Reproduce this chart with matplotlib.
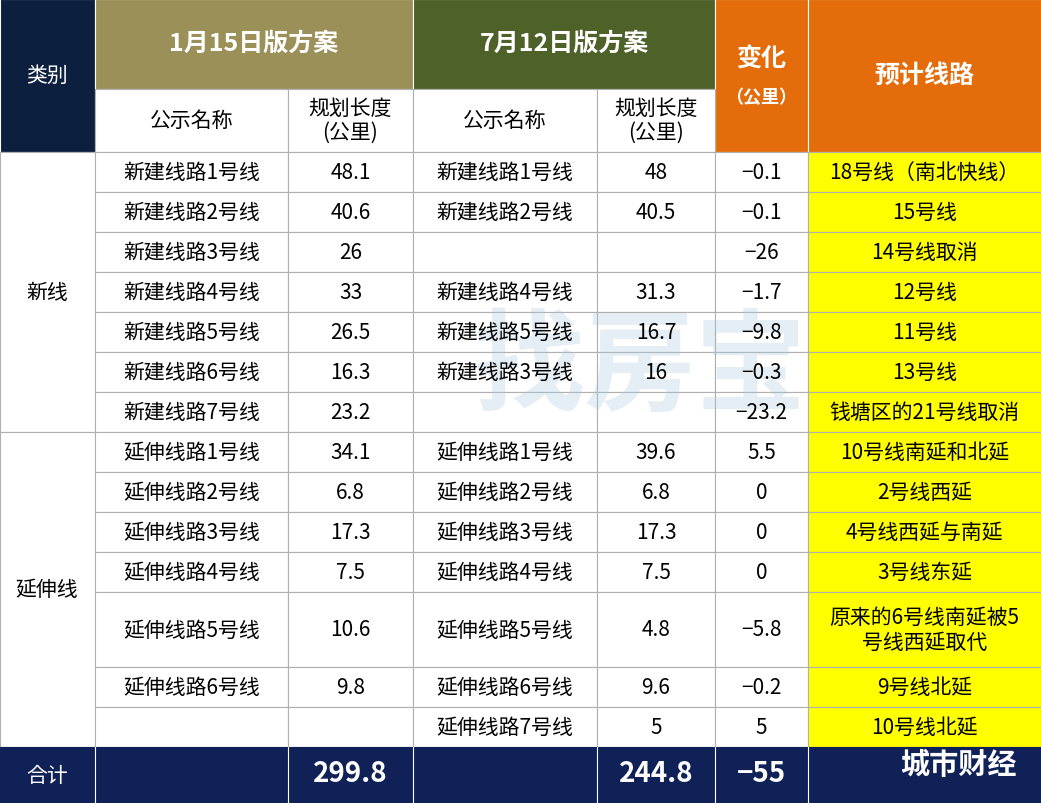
import matplotlib.pyplot as plt
from matplotlib.patches import Rectangle
from matplotlib import font_manager as fm

cjk = [f for f in fm.findSystemFonts() if 'cjk' in f.lower()]
fams = []
for f in cjk:
    try:
        fm.fontManager.addfont(f)
        fams.append(fm.FontProperties(fname=f).get_name())
    except Exception:
        pass
plt.rcParams['font.family'] = ['Noto Sans CJK SC', 'Noto Sans CJK JP'] + fams + ['DejaVu Sans']

names_jan = ['新建线路1号线', '新建线路2号线', '新建线路3号线', '新建线路4号线', '新建线路5号线', '新建线路6号线', '新建线路7号线',
             '延伸线路1号线', '延伸线路2号线', '延伸线路3号线', '延伸线路4号线', '延伸线路5号线', '延伸线路6号线', '']
len_jan = ['48.1', '40.6', '26', '33', '26.5', '16.3', '23.2', '34.1', '6.8', '17.3', '7.5', '10.6', '9.8', '']
names_jul = ['新建线路1号线', '新建线路2号线', '', '新建线路4号线', '新建线路5号线', '新建线路3号线', '',
             '延伸线路1号线', '延伸线路2号线', '延伸线路3号线', '延伸线路4号线', '延伸线路5号线', '延伸线路6号线', '延伸线路7号线']
len_jul = ['48', '40.5', '', '31.3', '16.7', '16', '', '39.6', '6.8', '17.3', '7.5', '4.8', '9.6', '5']
change = ['−0.1', '−0.1', '−26', '−1.7', '−9.8', '−0.3', '−23.2', '5.5', '0', '0', '0', '−5.8', '−0.2', '5']
plans = ['18号线（南北快线）', '15号线', '14号线取消', '12号线', '11号线', '13号线', '钱塘区的21号线取消',
         '10号线南延和北延', '2号线西延', '4号线西延与南延', '3号线东延', '原来的6号线南延被5\n号线西延取代', '9号线北延', '10号线北延']
totals = ['299.8', '244.8', '−55']

xs = [0, 95, 288, 413, 597, 715, 808, 1041]
row_h = [40] * 11 + [75, 40, 40]
ys = [153]
for h in row_h:
    ys.append(ys[-1] + h)

navy = '#0c1f3f'
olive = '#9b9058'
green = '#4e6129'
orange = '#e46c0a'
grid = '#b0b0b0'
fs = 15

fig = plt.figure(figsize=(10.41, 8.04), dpi=100)
ax = fig.add_axes([0, 0, 1, 1])
ax.set_xlim(0, 1041)
ax.set_ylim(804, 0)
ax.axis('off')

def cell(x0, x1, y0, y1, fc, ec=grid, lw=0.8):
    ax.add_patch(Rectangle((x0, y0), x1 - x0, y1 - y0, facecolor=fc, edgecolor=ec, lw=lw))

# watermark
ax.text(640, 370, '找房宝', fontsize=80, color='#a9c9e0', alpha=0.3, weight='bold',
        ha='center', va='center', zorder=5)

# header
cell(0, 95, 0, 153, navy, ec='white')
cell(95, 413, 0, 90, olive, ec='white')
cell(413, 715, 0, 90, green, ec='white')
cell(715, 808, 0, 153, orange, ec='white')
cell(808, 1041, 0, 153, orange, ec='white')
for i in range(1, 5):
    cell(xs[i], xs[i + 1], 90, 153, 'white')
ax.text(47, 76, '类别', color='white', fontsize=fs, ha='center', va='center')
ax.text(254, 44, '1月15日版方案', color='white', fontsize=18, weight='bold', ha='center', va='center')
ax.text(564, 44, '7月12日版方案', color='white', fontsize=18, weight='bold', ha='center', va='center')
ax.text(761, 60, '变化', color='white', fontsize=18, weight='bold', ha='center', va='center')
ax.text(761, 97, '（公里）', color='white', fontsize=13, weight='bold', ha='center', va='center')
ax.text(924, 76, '预计线路', color='white', fontsize=18, weight='bold', ha='center', va='center')
for i in (1, 3):
    ax.text((xs[i] + xs[i + 1]) / 2, 121, '公示名称', fontsize=fs, ha='center', va='center')
    ax.text((xs[i + 1] + xs[i + 2]) / 2, 121, '规划长度\n(公里)', fontsize=fs, ha='center', va='center', linespacing=1.15)

# category cells
cell(0, 95, ys[0], ys[7], 'white')
cell(0, 95, ys[7], ys[14], 'white')
ax.text(47, (ys[0] + ys[7]) / 2, '新线', fontsize=fs, ha='center', va='center')
ax.text(47, (ys[7] + ys[14]) / 2, '延伸线', fontsize=fs, ha='center', va='center')

cols = [names_jan, len_jan, names_jul, len_jul, change, plans]
for r in range(14):
    y0, y1 = ys[r], ys[r + 1]
    ym = (y0 + y1) / 2
    for c, data in enumerate(cols):
        x0, x1 = xs[c + 1], xs[c + 2]
        cell(x0, x1, y0, y1, '#ffff00' if c == 5 else 'white')
        ax.text((x0 + x1) / 2, ym, data[r], fontsize=fs, ha='center', va='center', linespacing=1.2, zorder=6)

# total row
cell(0, 1041, 748, 804, '#0f2157', ec='#0f2157')
for x in xs[1:-1]:
    ax.plot([x, x], [748, 804], color='white', lw=0.8)
ax.text(47, 776, '合计', color='white', fontsize=fs, ha='center', va='center')
ax.text(350, 774, totals[0], color='white', fontsize=20, weight='bold', ha='center', va='center')
ax.text(656, 774, totals[1], color='white', fontsize=20, weight='bold', ha='center', va='center')
ax.text(761, 774, totals[2], color='white', fontsize=20, weight='bold', ha='center', va='center')
ax.text(958, 765, '城市财经', color='white', fontsize=21, weight='bold', ha='center', va='center')

fig.savefig('out.png', dpi=100)
